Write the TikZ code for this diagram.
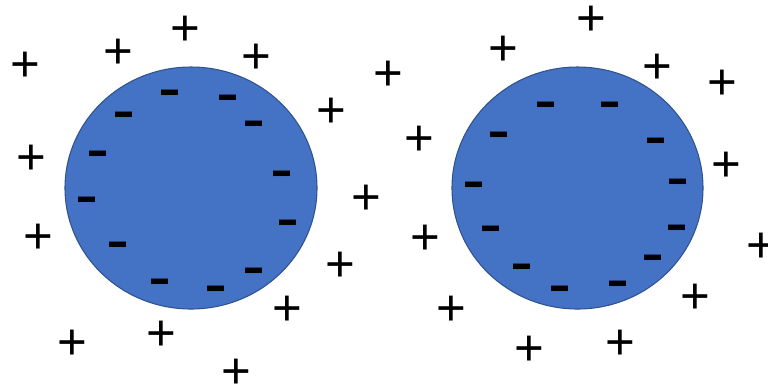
\documentclass[tikz,border=0pt]{standalone}
\usepackage{fontspec}
\setmainfont{Liberation Sans}
\usepackage{graphicx}
\usepackage{tikz}
\definecolor{pblue}{RGB}{68,114,196}
\definecolor{pborder}{RGB}{47,82,143}
\tikzset{
  sphere/.style={draw=pborder, fill=pblue, line width=0.6pt},
  pcharge/.style={inner sep=0pt, yshift=-2.4pt, font=\fontsize{29}{29}\selectfont},
  ncharge/.style={inner sep=0pt, yshift=-4pt, font=\fontsize{19.5}{19.5}\selectfont\bfseries},
}

\begin{document}
\begin{tikzpicture}[x=0.02cm, y=-0.02cm]
\useasboundingbox (0,0) rectangle (768,387);

% Spheres
\draw[sphere] (191,188) ellipse [x radius=126, y radius=121];
\draw[sphere] (577.5,188) ellipse [x radius=125.5, y radius=121];

% Negative charges on the left sphere
\foreach \x/\y [count=\i] in {170/92, 228/97, 124/114, 254/123, 98/153, 282/173,
    87/199, 288/222, 118/244, 254/270, 160/281, 216/288}
  \node[ncharge] (ln\i) at (\x,\y) {\scalebox{1}[1.6]{–}};

% Negative charges on the right sphere
\foreach \x/\y [count=\i] in {546/104, 610/104, 499/134, 656/140, 474/184, 678/181,
    491/228, 677/227, 522/266, 653/257, 560/288, 618/283}
  \node[ncharge] (rn\i) at (\x,\y) {\scalebox{1}[1.6]{–}};

% Positive charges round the left sphere
\foreach \x/\y [count=\i] in {185/27, 118/50, 256/55, 25/63, 388/72, 331/109, 31/156,
    366/196, 38/235, 340/263, 287/307, 161/332, 72/341, 236/370}
  \node[pcharge] (lp\i) at (\x,\y) {+};

% Positive charges round the right sphere
\foreach \x/\y [count=\i] in {591/17, 503/47, 657/65, 722/81, 419/137, 726/163,
    425/236, 761/244, 695/295, 451/307, 620/341, 529/347}
  \node[pcharge] (rp\i) at (\x,\y) {+};

\end{tikzpicture}
\end{document}
